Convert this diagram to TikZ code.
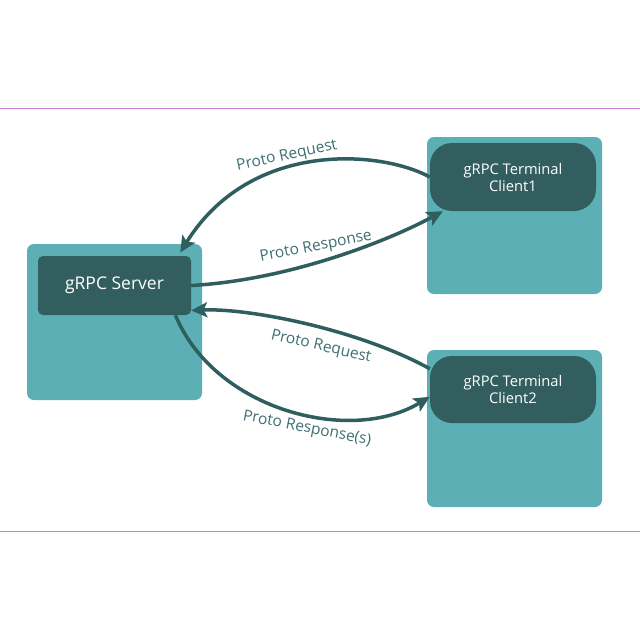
\documentclass[tikz,border=0pt]{standalone}
\usepackage{fontspec}
\setmainfont{Open Sans}
\usetikzlibrary{arrows.meta}

\definecolor{caja}{HTML}{5BAFB5}
\definecolor{cajaosc}{HTML}{325E5F}
\definecolor{flecha}{HTML}{2F5E5F}
\definecolor{etiq}{HTML}{3F6F72}
\definecolor{linea}{HTML}{C67FD2}

\begin{document}
\begin{tikzpicture}[x=1pt,y=-1pt,
    fondo/.style={fill=caja, rounded corners=7pt, minimum width=175pt, minimum height=157pt, inner sep=0pt},
    interno/.style={fill=cajaosc, text=white, align=center, inner sep=0pt},
    flechita/.style={draw=flecha, line width=3.5pt, -{Stealth[length=16pt,width=15pt,inset=3.5pt]}},
    etiqueta/.style={text=etiq, font=\fontsize{15.5}{17}\selectfont}]

    \useasboundingbox (0,0) rectangle (640,640);

    % lineas
    \draw[linea, line width=1pt] (0,108) -- (640,108);
    \draw[linea, line width=1pt] (0,531) -- (640,531);

    % servidor
    \node[fondo, minimum height=156pt] (srvout) at (114.5,322) {};
    \node[interno, rounded corners=5pt, minimum width=153pt, minimum height=59pt,
          font=\fontsize{17.5}{20}\selectfont] (srvin) at (114.5,285.5) {gRPC Server};

    % clientes
    \node[fondo] (c1out) at (514.5,215.5) {};
    \node[interno, rounded corners=22pt, minimum width=166pt, minimum height=68pt,
          font=\fontsize{14.7}{17}\selectfont] (c1in) at (513,177) {gRPC Terminal\\Client1};

    \node[fondo] (c2out) at (514.5,428.5) {};
    \node[interno, rounded corners=22pt, minimum width=166pt, minimum height=67pt,
          font=\fontsize{14.7}{17}\selectfont] (c2in) at (513,389.5) {gRPC Terminal\\Client2};

    % flechas
    \draw[flechita, shorten >=4pt] (c1in.west) .. controls (380,150) and (250,140) .. (srvin.25);
    \draw[flechita] (srvin.east) .. controls (290,280) and (390,240) .. (c1in.206);
    \draw[flechita] (c2in.166) .. controls (360,330) and (250,308) .. (srvin.-18);
    \draw[flechita] (srvin.-26) .. controls (215,410) and (350,445) .. (c2in.185);

    % etiquetas
    \node[etiqueta, rotate=12] (req1) at (287,156) {Proto Request};
    \node[etiqueta, rotate=11] (res1) at (316,247) {Proto Response};
    \node[etiqueta, rotate=-13] (req2) at (321,347) {Proto Request};
    \node[etiqueta, rotate=-11] (res2) at (307,429) {Proto Response(s)};

\end{tikzpicture}
\end{document}
